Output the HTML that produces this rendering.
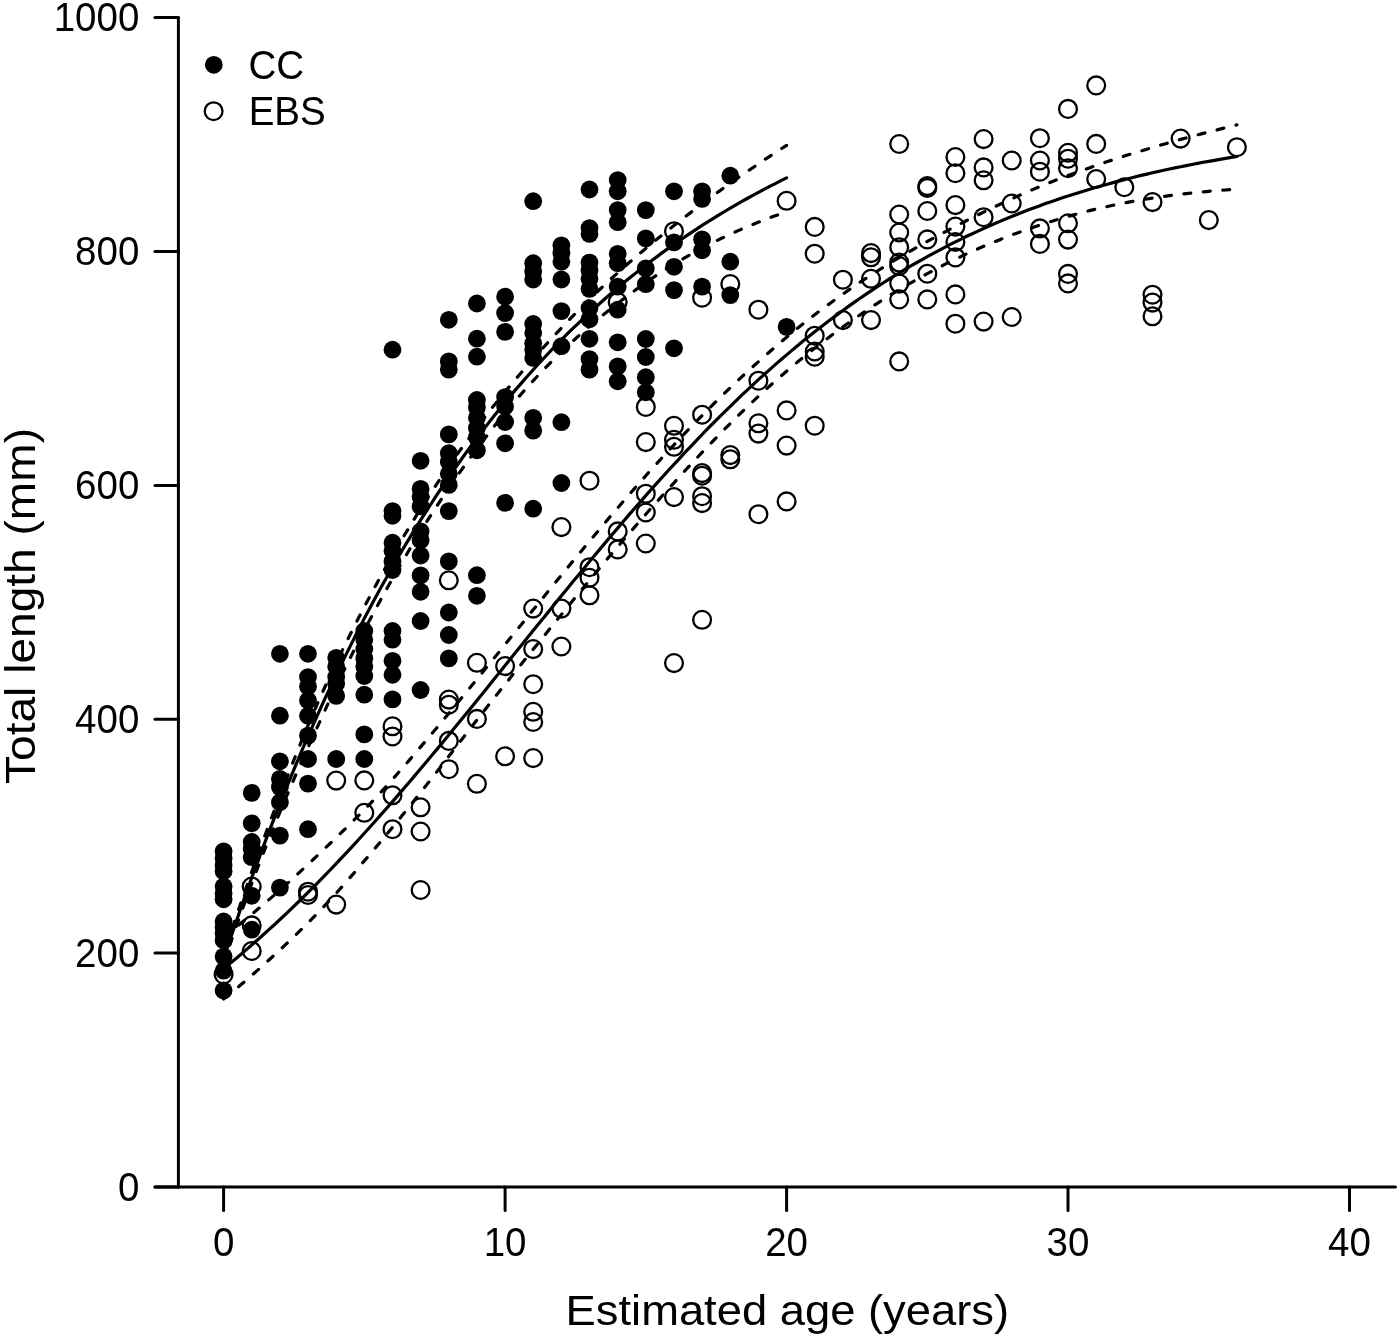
<!DOCTYPE html>
<html><head><meta charset="utf-8"><title>Growth curves</title>
<style>
html,body{margin:0;padding:0;background:#fff}
svg{display:block;will-change:transform}
text{font-family:"Liberation Sans",sans-serif;fill:#000}
.ax{stroke:#000;stroke-width:3;fill:none;stroke-linecap:round}
.s{stroke:#000;stroke-width:3.2;fill:none;stroke-linecap:round;stroke-linejoin:round}
.d{stroke:#000;stroke-width:3.2;fill:none;stroke-linecap:round;stroke-linejoin:round;stroke-dasharray:6.9 12.6}
.o circle{fill:none;stroke:#000;stroke-width:2.3}
.f circle{fill:#000}
.tk{font-size:40.4px}
.tt{font-size:43px}
</style></head>
<body>
<svg width="1400" height="1339" viewBox="0 0 1400 1339">
<rect width="1400" height="1339" fill="#fff"/>
<g class="ax">
<path d="M178.4 17.6V1187"/>
<path d="M155 1187H1395.5"/>
<path d="M155 1187.0H178.4"/>
<path d="M155 953.1H178.4"/>
<path d="M155 719.2H178.4"/>
<path d="M155 485.4H178.4"/>
<path d="M155 251.5H178.4"/>
<path d="M155 17.6H178.4"/>
<path d="M223.6 1187V1210.5"/>
<path d="M505.1 1187V1210.5"/>
<path d="M786.6 1187V1210.5"/>
<path d="M1068.0 1187V1210.5"/>
<path d="M1349.5 1187V1210.5"/>
</g>
<text class="tk" transform="translate(139.3 1200.6) scale(0.953 1)" text-anchor="end">0</text>
<text class="tk" transform="translate(139.3 966.7) scale(0.953 1)" text-anchor="end">200</text>
<text class="tk" transform="translate(139.3 732.8) scale(0.953 1)" text-anchor="end">400</text>
<text class="tk" transform="translate(139.3 499.0) scale(0.953 1)" text-anchor="end">600</text>
<text class="tk" transform="translate(139.3 265.1) scale(0.953 1)" text-anchor="end">800</text>
<text class="tk" transform="translate(139.3 31.2) scale(0.953 1)" text-anchor="end">1000</text>
<text class="tk" transform="translate(223.6 1255.8) scale(0.953 1)" text-anchor="middle">0</text>
<text class="tk" transform="translate(505.1 1255.8) scale(0.953 1)" text-anchor="middle">10</text>
<text class="tk" transform="translate(786.6 1255.8) scale(0.953 1)" text-anchor="middle">20</text>
<text class="tk" transform="translate(1068.0 1255.8) scale(0.953 1)" text-anchor="middle">30</text>
<text class="tk" transform="translate(1349.5 1255.8) scale(0.953 1)" text-anchor="middle">40</text>
<text class="tt" x="787.3" y="1325.4" text-anchor="middle" textLength="443.5" lengthAdjust="spacingAndGlyphs">Estimated age (years)</text>
<text class="tt" transform="translate(35.3 606) rotate(-90)" text-anchor="middle" textLength="356" lengthAdjust="spacingAndGlyphs">Total length (mm)</text>
<g class="o">
<circle cx="223.6" cy="974.5" r="8.9"/>
<circle cx="251.7" cy="886.5" r="8.9"/>
<circle cx="251.7" cy="925.4" r="8.9"/>
<circle cx="251.7" cy="951.0" r="8.9"/>
<circle cx="308.0" cy="891.7" r="8.9"/>
<circle cx="308.0" cy="895.0" r="8.9"/>
<circle cx="336.2" cy="780.6" r="8.9"/>
<circle cx="336.2" cy="904.6" r="8.9"/>
<circle cx="364.3" cy="780.4" r="8.9"/>
<circle cx="364.3" cy="812.8" r="8.9"/>
<circle cx="392.5" cy="726.3" r="8.9"/>
<circle cx="392.5" cy="736.5" r="8.9"/>
<circle cx="392.5" cy="795.3" r="8.9"/>
<circle cx="392.5" cy="829.2" r="8.9"/>
<circle cx="420.6" cy="807.3" r="8.9"/>
<circle cx="420.6" cy="831.5" r="8.9"/>
<circle cx="420.6" cy="890.0" r="8.9"/>
<circle cx="448.8" cy="580.3" r="8.9"/>
<circle cx="448.8" cy="699.6" r="8.9"/>
<circle cx="448.8" cy="704.7" r="8.9"/>
<circle cx="448.8" cy="740.9" r="8.9"/>
<circle cx="448.8" cy="769.2" r="8.9"/>
<circle cx="476.9" cy="662.8" r="8.9"/>
<circle cx="476.9" cy="718.9" r="8.9"/>
<circle cx="476.9" cy="783.8" r="8.9"/>
<circle cx="505.1" cy="666.1" r="8.9"/>
<circle cx="505.1" cy="756.3" r="8.9"/>
<circle cx="533.2" cy="608.6" r="8.9"/>
<circle cx="533.2" cy="649.1" r="8.9"/>
<circle cx="533.2" cy="684.2" r="8.9"/>
<circle cx="533.2" cy="711.8" r="8.9"/>
<circle cx="533.2" cy="722.0" r="8.9"/>
<circle cx="533.2" cy="758.1" r="8.9"/>
<circle cx="561.4" cy="527.1" r="8.9"/>
<circle cx="561.4" cy="608.6" r="8.9"/>
<circle cx="561.4" cy="646.5" r="8.9"/>
<circle cx="589.5" cy="480.7" r="8.9"/>
<circle cx="589.5" cy="567.2" r="8.9"/>
<circle cx="589.5" cy="577.7" r="8.9"/>
<circle cx="589.5" cy="595.3" r="8.9"/>
<circle cx="617.7" cy="302.0" r="8.9"/>
<circle cx="617.7" cy="531.4" r="8.9"/>
<circle cx="617.7" cy="549.4" r="8.9"/>
<circle cx="645.8" cy="406.9" r="8.9"/>
<circle cx="645.8" cy="442.1" r="8.9"/>
<circle cx="645.8" cy="493.7" r="8.9"/>
<circle cx="645.8" cy="512.5" r="8.9"/>
<circle cx="645.8" cy="543.5" r="8.9"/>
<circle cx="674.0" cy="231.2" r="8.9"/>
<circle cx="674.0" cy="425.8" r="8.9"/>
<circle cx="674.0" cy="439.8" r="8.9"/>
<circle cx="674.0" cy="446.8" r="8.9"/>
<circle cx="674.0" cy="497.1" r="8.9"/>
<circle cx="674.0" cy="663.1" r="8.9"/>
<circle cx="702.1" cy="297.7" r="8.9"/>
<circle cx="702.1" cy="414.7" r="8.9"/>
<circle cx="702.1" cy="473.1" r="8.9"/>
<circle cx="702.1" cy="475.7" r="8.9"/>
<circle cx="702.1" cy="496.2" r="8.9"/>
<circle cx="702.1" cy="503.1" r="8.9"/>
<circle cx="702.1" cy="619.8" r="8.9"/>
<circle cx="730.3" cy="284.0" r="8.9"/>
<circle cx="730.3" cy="455.1" r="8.9"/>
<circle cx="730.3" cy="459.3" r="8.9"/>
<circle cx="758.4" cy="309.7" r="8.9"/>
<circle cx="758.4" cy="380.7" r="8.9"/>
<circle cx="758.4" cy="423.3" r="8.9"/>
<circle cx="758.4" cy="433.6" r="8.9"/>
<circle cx="758.4" cy="514.2" r="8.9"/>
<circle cx="786.6" cy="200.8" r="8.9"/>
<circle cx="786.6" cy="410.4" r="8.9"/>
<circle cx="786.6" cy="445.6" r="8.9"/>
<circle cx="786.6" cy="501.4" r="8.9"/>
<circle cx="814.7" cy="226.9" r="8.9"/>
<circle cx="814.7" cy="253.7" r="8.9"/>
<circle cx="814.7" cy="335.7" r="8.9"/>
<circle cx="814.7" cy="351.5" r="8.9"/>
<circle cx="814.7" cy="356.7" r="8.9"/>
<circle cx="814.7" cy="425.7" r="8.9"/>
<circle cx="842.9" cy="279.7" r="8.9"/>
<circle cx="842.9" cy="320.1" r="8.9"/>
<circle cx="871.0" cy="253.1" r="8.9"/>
<circle cx="871.0" cy="257.3" r="8.9"/>
<circle cx="871.0" cy="278.8" r="8.9"/>
<circle cx="871.0" cy="320.1" r="8.9"/>
<circle cx="899.2" cy="144.0" r="8.9"/>
<circle cx="899.2" cy="214.5" r="8.9"/>
<circle cx="899.2" cy="232.5" r="8.9"/>
<circle cx="899.2" cy="247.2" r="8.9"/>
<circle cx="899.2" cy="262.6" r="8.9"/>
<circle cx="899.2" cy="266.0" r="8.9"/>
<circle cx="899.2" cy="283.6" r="8.9"/>
<circle cx="899.2" cy="299.4" r="8.9"/>
<circle cx="899.2" cy="361.4" r="8.9"/>
<circle cx="927.3" cy="186.1" r="8.9"/>
<circle cx="927.3" cy="187.9" r="8.9"/>
<circle cx="927.3" cy="211.0" r="8.9"/>
<circle cx="927.3" cy="239.4" r="8.9"/>
<circle cx="927.3" cy="273.7" r="8.9"/>
<circle cx="927.3" cy="299.4" r="8.9"/>
<circle cx="955.4" cy="157.0" r="8.9"/>
<circle cx="955.4" cy="173.2" r="8.9"/>
<circle cx="955.4" cy="205.1" r="8.9"/>
<circle cx="955.4" cy="226.6" r="8.9"/>
<circle cx="955.4" cy="242.0" r="8.9"/>
<circle cx="955.4" cy="257.4" r="8.9"/>
<circle cx="955.4" cy="294.4" r="8.9"/>
<circle cx="955.4" cy="323.7" r="8.9"/>
<circle cx="983.6" cy="139.1" r="8.9"/>
<circle cx="983.6" cy="167.4" r="8.9"/>
<circle cx="983.6" cy="180.3" r="8.9"/>
<circle cx="983.6" cy="217.2" r="8.9"/>
<circle cx="983.6" cy="321.6" r="8.9"/>
<circle cx="1011.7" cy="160.5" r="8.9"/>
<circle cx="1011.7" cy="203.5" r="8.9"/>
<circle cx="1011.7" cy="317.0" r="8.9"/>
<circle cx="1039.9" cy="138.2" r="8.9"/>
<circle cx="1039.9" cy="160.5" r="8.9"/>
<circle cx="1039.9" cy="171.7" r="8.9"/>
<circle cx="1039.9" cy="228.4" r="8.9"/>
<circle cx="1039.9" cy="243.9" r="8.9"/>
<circle cx="1068.0" cy="108.9" r="8.9"/>
<circle cx="1068.0" cy="152.8" r="8.9"/>
<circle cx="1068.0" cy="158.7" r="8.9"/>
<circle cx="1068.0" cy="168.2" r="8.9"/>
<circle cx="1068.0" cy="223.3" r="8.9"/>
<circle cx="1068.0" cy="239.6" r="8.9"/>
<circle cx="1068.0" cy="273.9" r="8.9"/>
<circle cx="1068.0" cy="283.4" r="8.9"/>
<circle cx="1096.2" cy="85.4" r="8.9"/>
<circle cx="1096.2" cy="143.9" r="8.9"/>
<circle cx="1096.2" cy="179.0" r="8.9"/>
<circle cx="1124.3" cy="187.2" r="8.9"/>
<circle cx="1152.5" cy="202.1" r="8.9"/>
<circle cx="1152.5" cy="294.7" r="8.9"/>
<circle cx="1152.5" cy="302.6" r="8.9"/>
<circle cx="1152.5" cy="316.3" r="8.9"/>
<circle cx="1180.6" cy="138.6" r="8.9"/>
<circle cx="1208.8" cy="220.1" r="8.9"/>
<circle cx="1236.9" cy="147.2" r="8.9"/>
<circle cx="213.6" cy="111.2" r="8.9"/>
</g>
<g class="f">
<circle cx="223.6" cy="851.4" r="8.9"/>
<circle cx="223.6" cy="858.4" r="8.9"/>
<circle cx="223.6" cy="865.4" r="8.9"/>
<circle cx="223.6" cy="871.3" r="8.9"/>
<circle cx="223.6" cy="886.5" r="8.9"/>
<circle cx="223.6" cy="893.5" r="8.9"/>
<circle cx="223.6" cy="899.3" r="8.9"/>
<circle cx="223.6" cy="921.5" r="8.9"/>
<circle cx="223.6" cy="927.4" r="8.9"/>
<circle cx="223.6" cy="933.2" r="8.9"/>
<circle cx="223.6" cy="940.3" r="8.9"/>
<circle cx="223.6" cy="956.6" r="8.9"/>
<circle cx="223.6" cy="970.7" r="8.9"/>
<circle cx="223.6" cy="990.5" r="8.9"/>
<circle cx="251.7" cy="792.9" r="8.9"/>
<circle cx="251.7" cy="823.3" r="8.9"/>
<circle cx="251.7" cy="842.0" r="8.9"/>
<circle cx="251.7" cy="849.0" r="8.9"/>
<circle cx="251.7" cy="857.2" r="8.9"/>
<circle cx="251.7" cy="895.8" r="8.9"/>
<circle cx="251.7" cy="929.7" r="8.9"/>
<circle cx="279.9" cy="653.8" r="8.9"/>
<circle cx="279.9" cy="715.7" r="8.9"/>
<circle cx="279.9" cy="761.3" r="8.9"/>
<circle cx="279.9" cy="778.9" r="8.9"/>
<circle cx="279.9" cy="787.1" r="8.9"/>
<circle cx="279.9" cy="802.3" r="8.9"/>
<circle cx="279.9" cy="835.6" r="8.9"/>
<circle cx="279.9" cy="887.6" r="8.9"/>
<circle cx="308.0" cy="653.8" r="8.9"/>
<circle cx="308.0" cy="677.1" r="8.9"/>
<circle cx="308.0" cy="686.5" r="8.9"/>
<circle cx="308.0" cy="700.5" r="8.9"/>
<circle cx="308.0" cy="715.7" r="8.9"/>
<circle cx="308.0" cy="735.6" r="8.9"/>
<circle cx="308.0" cy="759.0" r="8.9"/>
<circle cx="308.0" cy="783.6" r="8.9"/>
<circle cx="308.0" cy="829.2" r="8.9"/>
<circle cx="336.2" cy="657.8" r="8.9"/>
<circle cx="336.2" cy="666.6" r="8.9"/>
<circle cx="336.2" cy="677.1" r="8.9"/>
<circle cx="336.2" cy="683.6" r="8.9"/>
<circle cx="336.2" cy="695.9" r="8.9"/>
<circle cx="336.2" cy="759.0" r="8.9"/>
<circle cx="364.3" cy="631.0" r="8.9"/>
<circle cx="364.3" cy="639.7" r="8.9"/>
<circle cx="364.3" cy="649.1" r="8.9"/>
<circle cx="364.3" cy="658.4" r="8.9"/>
<circle cx="364.3" cy="666.6" r="8.9"/>
<circle cx="364.3" cy="676.0" r="8.9"/>
<circle cx="364.3" cy="694.7" r="8.9"/>
<circle cx="364.3" cy="734.4" r="8.9"/>
<circle cx="364.3" cy="759.0" r="8.9"/>
<circle cx="392.5" cy="349.7" r="8.9"/>
<circle cx="392.5" cy="511.1" r="8.9"/>
<circle cx="392.5" cy="515.8" r="8.9"/>
<circle cx="392.5" cy="542.7" r="8.9"/>
<circle cx="392.5" cy="550.8" r="8.9"/>
<circle cx="392.5" cy="561.4" r="8.9"/>
<circle cx="392.5" cy="570.0" r="8.9"/>
<circle cx="392.5" cy="631.0" r="8.9"/>
<circle cx="392.5" cy="639.7" r="8.9"/>
<circle cx="392.5" cy="660.8" r="8.9"/>
<circle cx="392.5" cy="674.8" r="8.9"/>
<circle cx="392.5" cy="699.4" r="8.9"/>
<circle cx="420.6" cy="460.8" r="8.9"/>
<circle cx="420.6" cy="488.9" r="8.9"/>
<circle cx="420.6" cy="497.1" r="8.9"/>
<circle cx="420.6" cy="506.4" r="8.9"/>
<circle cx="420.6" cy="531.4" r="8.9"/>
<circle cx="420.6" cy="540.3" r="8.9"/>
<circle cx="420.6" cy="555.5" r="8.9"/>
<circle cx="420.6" cy="575.4" r="8.9"/>
<circle cx="420.6" cy="591.8" r="8.9"/>
<circle cx="420.6" cy="621.0" r="8.9"/>
<circle cx="420.6" cy="690.0" r="8.9"/>
<circle cx="448.8" cy="319.8" r="8.9"/>
<circle cx="448.8" cy="361.4" r="8.9"/>
<circle cx="448.8" cy="369.6" r="8.9"/>
<circle cx="448.8" cy="434.4" r="8.9"/>
<circle cx="448.8" cy="453.2" r="8.9"/>
<circle cx="448.8" cy="462.0" r="8.9"/>
<circle cx="448.8" cy="473.7" r="8.9"/>
<circle cx="448.8" cy="484.9" r="8.9"/>
<circle cx="448.8" cy="511.1" r="8.9"/>
<circle cx="448.8" cy="561.4" r="8.9"/>
<circle cx="448.8" cy="612.5" r="8.9"/>
<circle cx="448.8" cy="635.0" r="8.9"/>
<circle cx="448.8" cy="658.4" r="8.9"/>
<circle cx="476.9" cy="303.5" r="8.9"/>
<circle cx="476.9" cy="338.7" r="8.9"/>
<circle cx="476.9" cy="356.7" r="8.9"/>
<circle cx="476.9" cy="400.0" r="8.9"/>
<circle cx="476.9" cy="407.4" r="8.9"/>
<circle cx="476.9" cy="417.8" r="8.9"/>
<circle cx="476.9" cy="428.1" r="8.9"/>
<circle cx="476.9" cy="437.4" r="8.9"/>
<circle cx="476.9" cy="450.3" r="8.9"/>
<circle cx="476.9" cy="575.2" r="8.9"/>
<circle cx="476.9" cy="595.8" r="8.9"/>
<circle cx="505.1" cy="296.7" r="8.9"/>
<circle cx="505.1" cy="313.1" r="8.9"/>
<circle cx="505.1" cy="331.9" r="8.9"/>
<circle cx="505.1" cy="397.1" r="8.9"/>
<circle cx="505.1" cy="406.5" r="8.9"/>
<circle cx="505.1" cy="422.0" r="8.9"/>
<circle cx="505.1" cy="443.3" r="8.9"/>
<circle cx="505.1" cy="502.9" r="8.9"/>
<circle cx="533.2" cy="201.2" r="8.9"/>
<circle cx="533.2" cy="263.2" r="8.9"/>
<circle cx="533.2" cy="271.4" r="8.9"/>
<circle cx="533.2" cy="279.5" r="8.9"/>
<circle cx="533.2" cy="324.0" r="8.9"/>
<circle cx="533.2" cy="332.9" r="8.9"/>
<circle cx="533.2" cy="343.3" r="8.9"/>
<circle cx="533.2" cy="349.7" r="8.9"/>
<circle cx="533.2" cy="357.9" r="8.9"/>
<circle cx="533.2" cy="417.8" r="8.9"/>
<circle cx="533.2" cy="430.6" r="8.9"/>
<circle cx="533.2" cy="508.7" r="8.9"/>
<circle cx="561.4" cy="245.3" r="8.9"/>
<circle cx="561.4" cy="253.1" r="8.9"/>
<circle cx="561.4" cy="261.7" r="8.9"/>
<circle cx="561.4" cy="279.5" r="8.9"/>
<circle cx="561.4" cy="311.1" r="8.9"/>
<circle cx="561.4" cy="346.2" r="8.9"/>
<circle cx="561.4" cy="422.2" r="8.9"/>
<circle cx="561.4" cy="483.0" r="8.9"/>
<circle cx="589.5" cy="189.5" r="8.9"/>
<circle cx="589.5" cy="228.1" r="8.9"/>
<circle cx="589.5" cy="233.9" r="8.9"/>
<circle cx="589.5" cy="262.6" r="8.9"/>
<circle cx="589.5" cy="270.2" r="8.9"/>
<circle cx="589.5" cy="278.8" r="8.9"/>
<circle cx="589.5" cy="288.9" r="8.9"/>
<circle cx="589.5" cy="308.1" r="8.9"/>
<circle cx="589.5" cy="319.3" r="8.9"/>
<circle cx="589.5" cy="338.8" r="8.9"/>
<circle cx="589.5" cy="359.1" r="8.9"/>
<circle cx="589.5" cy="369.6" r="8.9"/>
<circle cx="617.7" cy="180.1" r="8.9"/>
<circle cx="617.7" cy="191.3" r="8.9"/>
<circle cx="617.7" cy="210.1" r="8.9"/>
<circle cx="617.7" cy="222.2" r="8.9"/>
<circle cx="617.7" cy="253.8" r="8.9"/>
<circle cx="617.7" cy="263.2" r="8.9"/>
<circle cx="617.7" cy="286.6" r="8.9"/>
<circle cx="617.7" cy="309.7" r="8.9"/>
<circle cx="617.7" cy="342.3" r="8.9"/>
<circle cx="617.7" cy="366.4" r="8.9"/>
<circle cx="617.7" cy="381.3" r="8.9"/>
<circle cx="645.8" cy="210.1" r="8.9"/>
<circle cx="645.8" cy="238.4" r="8.9"/>
<circle cx="645.8" cy="268.4" r="8.9"/>
<circle cx="645.8" cy="284.2" r="8.9"/>
<circle cx="645.8" cy="339.0" r="8.9"/>
<circle cx="645.8" cy="357.0" r="8.9"/>
<circle cx="645.8" cy="377.2" r="8.9"/>
<circle cx="645.8" cy="392.3" r="8.9"/>
<circle cx="674.0" cy="191.3" r="8.9"/>
<circle cx="674.0" cy="242.4" r="8.9"/>
<circle cx="674.0" cy="266.8" r="8.9"/>
<circle cx="674.0" cy="290.1" r="8.9"/>
<circle cx="674.0" cy="348.3" r="8.9"/>
<circle cx="702.1" cy="191.3" r="8.9"/>
<circle cx="702.1" cy="198.9" r="8.9"/>
<circle cx="702.1" cy="239.3" r="8.9"/>
<circle cx="702.1" cy="250.3" r="8.9"/>
<circle cx="702.1" cy="286.6" r="8.9"/>
<circle cx="730.3" cy="175.7" r="8.9"/>
<circle cx="730.3" cy="261.7" r="8.9"/>
<circle cx="730.3" cy="295.1" r="8.9"/>
<circle cx="786.6" cy="326.9" r="8.9"/>
<circle cx="213.8" cy="64.8" r="8.9"/>
</g>
<polyline class="s" points="223.6,968.7 229.2,964.1 234.9,959.4 240.5,954.7 246.1,949.9 251.7,945.0 257.4,940.0 263.0,935.0 268.6,929.9 274.3,924.8 279.9,919.5 285.5,914.3 291.2,908.9 296.8,903.5 302.4,898.0 308.0,892.4 313.7,886.8 319.3,881.1 324.9,875.3 330.6,869.5 336.2,863.6 341.8,857.7 347.5,851.6 353.1,845.6 358.7,839.5 364.3,833.3 370.0,827.0 375.6,820.8 381.2,814.4 386.9,808.0 392.5,801.6 398.1,795.1 403.7,788.6 409.4,782.0 415.0,775.4 420.6,768.7 426.3,762.0 431.9,755.3 437.5,748.6 443.2,741.8 448.8,734.9 454.4,728.1 460.0,721.2 465.7,714.3 471.3,707.4 476.9,700.5 482.6,693.5 488.2,686.5 493.8,679.6 499.5,672.6 505.1,665.6 510.7,658.6 516.3,651.6 522.0,644.6 527.6,637.6 533.2,630.6 538.9,623.6 544.5,616.7 550.1,609.7 555.7,602.8 561.4,595.8 567.0,588.9 572.6,582.1 578.3,575.2 583.9,568.4 589.5,561.6 595.2,554.8 600.8,548.1 606.4,541.4 612.0,534.7 617.7,528.1 623.3,521.5 628.9,514.9 634.6,508.4 640.2,502.0 645.8,495.6 651.4,489.2 657.1,482.9 662.7,476.7 668.3,470.5 674.0,464.3 679.6,458.3 685.2,452.2 690.9,446.3 696.5,440.4 702.1,434.5 707.7,428.7 713.4,423.0 719.0,417.4 724.6,411.8 730.3,406.3 735.9,400.8 741.5,395.4 747.2,390.1 752.8,384.9 758.4,379.7 764.0,374.6 769.7,369.6 775.3,364.6 780.9,359.7 786.6,354.9 792.2,350.1 797.8,345.4 803.4,340.8 809.1,336.3 814.7,331.8 820.3,327.4 826.0,323.0 831.6,318.8 837.2,314.6 842.9,310.5 848.5,306.4 854.1,302.4 859.7,298.5 865.4,294.7 871.0,290.9 876.6,287.2 882.3,283.5 887.9,279.9 893.5,276.4 899.2,273.0 904.8,269.6 910.4,266.2 916.0,263.0 921.7,259.8 927.3,256.6 932.9,253.6 938.6,250.6 944.2,247.6 949.8,244.7 955.4,241.9 961.1,239.1 966.7,236.3 972.3,233.7 978.0,231.1 983.6,228.5 989.2,226.0 994.9,223.5 1000.5,221.1 1006.1,218.8 1011.7,216.5 1017.4,214.2 1023.0,212.0 1028.6,209.8 1034.3,207.7 1039.9,205.7 1045.5,203.6 1051.2,201.7 1056.8,199.7 1062.4,197.8 1068.0,196.0 1073.7,194.2 1079.3,192.4 1084.9,190.7 1090.6,189.0 1096.2,187.3 1101.8,185.7 1107.4,184.2 1113.1,182.6 1118.7,181.1 1124.3,179.6 1130.0,178.2 1135.6,176.8 1141.2,175.4 1146.9,174.1 1152.5,172.8 1158.1,171.5 1163.7,170.3 1169.4,169.0 1175.0,167.9 1180.6,166.7 1186.3,165.6 1191.9,164.5 1197.5,163.4 1203.2,162.3 1208.8,161.3 1214.4,160.3 1220.0,159.3 1225.7,158.4 1231.3,157.4 1236.9,156.5"/>
<polyline class="d" points="223.6,937.1 229.2,932.7 234.9,928.2 240.5,923.6 246.1,919.0 251.7,914.3 257.4,909.6 263.0,904.8 268.6,900.0 274.3,895.1 279.9,890.1 285.5,885.1 291.2,880.0 296.8,874.8 302.4,869.6 308.0,864.3 313.7,859.0 319.3,853.7 324.9,848.4 330.6,843.0 336.2,837.6 341.8,832.1 347.5,826.6 353.1,821.0 358.7,815.4 364.3,809.6 370.0,803.8 375.6,797.9 381.2,791.8 386.9,785.7 392.5,779.4 398.1,773.0 403.7,766.6 409.4,760.1 415.0,753.5 420.6,746.9 426.3,740.3 431.9,733.7 437.5,727.0 443.2,720.2 448.8,713.4 454.4,706.6 460.0,699.8 465.7,693.0 471.3,686.1 476.9,679.2 482.6,672.3 488.2,665.4 493.8,658.4 499.5,651.5 505.1,644.5 510.7,637.6 516.3,630.6 522.0,623.7 527.6,616.8 533.2,609.8 538.9,602.9 544.5,595.9 550.1,589.0 555.7,582.1 561.4,575.2 567.0,568.4 572.6,561.5 578.3,554.7 583.9,547.9 589.5,541.2 595.2,534.5 600.8,527.8 606.4,521.1 612.0,514.5 617.7,507.9 623.3,501.4 628.9,494.9 634.6,488.4 640.2,482.0 645.8,475.7 651.4,469.4 657.1,463.2 662.7,457.0 668.3,450.9 674.0,444.8 679.6,438.8 685.2,432.9 690.9,427.0 696.5,421.2 702.1,415.5 707.7,409.8 713.4,404.2 719.0,398.6 724.6,393.1 730.3,387.7 735.9,382.4 741.5,377.1 747.2,371.9 752.8,366.7 758.4,361.7 764.0,356.7 769.7,351.7 775.3,346.9 780.9,342.1 786.6,337.3 792.2,332.7 797.8,328.1 803.4,323.6 809.1,319.1 814.7,314.8 820.3,310.5 826.0,306.3 831.6,302.2 837.2,298.1 842.9,294.1 848.5,290.1 854.1,286.3 859.7,282.5 865.4,278.7 871.0,275.1 876.6,271.5 882.3,267.9 887.9,264.4 893.5,261.0 899.2,257.6 904.8,254.3 910.4,251.0 916.0,247.8 921.7,244.6 927.3,241.4 932.9,238.4 938.6,235.3 944.2,232.3 949.8,229.3 955.4,226.3 961.1,223.4 966.7,220.5 972.3,217.7 978.0,214.9 983.6,212.1 989.2,209.3 994.9,206.7 1000.5,204.0 1006.1,201.4 1011.7,198.8 1017.4,196.3 1023.0,193.8 1028.6,191.3 1034.3,188.9 1039.9,186.6 1045.5,184.3 1051.2,182.0 1056.8,179.8 1062.4,177.6 1068.0,175.5 1073.7,173.4 1079.3,171.4 1084.9,169.4 1090.6,167.4 1096.2,165.4 1101.8,163.5 1107.4,161.6 1113.1,159.8 1118.7,157.9 1124.3,156.1 1130.0,154.3 1135.6,152.6 1141.2,150.9 1146.9,149.2 1152.5,147.5 1158.1,145.8 1163.7,144.2 1169.4,142.6 1175.0,141.0 1180.6,139.4 1186.3,137.9 1191.9,136.4 1197.5,134.9 1203.2,133.4 1208.8,131.9 1214.4,130.5 1220.0,129.1 1225.7,127.7 1231.3,126.3 1236.9,124.9"/>
<polyline class="d" points="223.6,999.1 229.2,994.5 234.9,989.8 240.5,985.1 246.1,980.3 251.7,975.4 257.4,970.4 263.0,965.4 268.6,960.3 274.3,955.2 279.9,950.0 285.5,944.7 291.2,939.3 296.8,933.9 302.4,928.4 308.0,922.8 313.7,917.1 319.3,911.3 324.9,905.4 330.6,899.3 336.2,893.2 341.8,886.9 347.5,880.5 353.1,874.1 358.7,867.5 364.3,860.9 370.0,854.3 375.6,847.6 381.2,840.9 386.9,834.1 392.5,827.3 398.1,820.5 403.7,813.6 409.4,806.6 415.0,799.5 420.6,792.4 426.3,785.3 431.9,778.1 437.5,770.9 443.2,763.6 448.8,756.3 454.4,749.1 460.0,741.8 465.7,734.5 471.3,727.2 476.9,720.0 482.6,712.7 488.2,705.6 493.8,698.4 499.5,691.3 505.1,684.3 510.7,677.3 516.3,670.3 522.0,663.3 527.6,656.3 533.2,649.3 538.9,642.3 544.5,635.4 550.1,628.4 555.7,621.5 561.4,614.6 567.0,607.7 572.6,600.8 578.3,593.9 583.9,587.1 589.5,580.3 595.2,573.5 600.8,566.8 606.4,560.1 612.0,553.4 617.7,546.8 623.3,540.2 628.9,533.6 634.6,527.1 640.2,520.7 645.8,514.3 651.4,507.9 657.1,501.6 662.7,495.3 668.3,489.0 674.0,482.8 679.6,476.6 685.2,470.5 690.9,464.4 696.5,458.4 702.1,452.4 707.7,446.5 713.4,440.6 719.0,434.9 724.6,429.1 730.3,423.5 735.9,417.9 741.5,412.4 747.2,406.9 752.8,401.6 758.4,396.3 764.0,391.1 769.7,386.0 775.3,381.0 780.9,376.1 786.6,371.2 792.2,366.5 797.8,361.8 803.4,357.2 809.1,352.6 814.7,348.2 820.3,343.8 826.0,339.5 831.6,335.2 837.2,331.0 842.9,326.9 848.5,322.9 854.1,318.9 859.7,315.1 865.4,311.2 871.0,307.5 876.6,303.8 882.3,300.2 887.9,296.6 893.5,293.1 899.2,289.7 904.8,286.4 910.4,283.1 916.0,279.9 921.7,276.7 927.3,273.6 932.9,270.6 938.6,267.6 944.2,264.7 949.8,261.9 955.4,259.1 961.1,256.5 966.7,253.8 972.3,251.3 978.0,248.8 983.6,246.3 989.2,244.0 994.9,241.6 1000.5,239.4 1006.1,237.2 1011.7,235.0 1017.4,233.0 1023.0,230.9 1028.6,228.9 1034.3,227.0 1039.9,225.1 1045.5,223.3 1051.2,221.5 1056.8,219.8 1062.4,218.1 1068.0,216.4 1073.7,214.9 1079.3,213.3 1084.9,211.8 1090.6,210.4 1096.2,209.0 1101.8,207.7 1107.4,206.5 1113.1,205.2 1118.7,204.1 1124.3,203.0 1130.0,201.9 1135.6,200.9 1141.2,199.9 1146.9,199.0 1152.5,198.1 1158.1,197.2 1163.7,196.4 1169.4,195.7 1175.0,194.9 1180.6,194.2 1186.3,193.6 1191.9,193.0 1197.5,192.4 1203.2,191.9 1208.8,191.3 1214.4,190.9 1220.0,190.4 1225.7,190.0 1231.3,189.6 1236.9,189.3"/>
<polyline class="s" points="223.6,958.7 229.2,942.0 234.9,925.5 240.5,909.3 246.1,893.4 251.7,877.8 257.4,862.5 263.0,847.4 268.6,832.6 274.3,818.1 279.9,803.9 285.5,789.9 291.2,776.1 296.8,762.6 302.4,749.4 308.0,736.4 313.7,723.6 319.3,711.1 324.9,698.7 330.6,686.6 336.2,674.7 341.8,663.1 347.5,651.6 353.1,640.4 358.7,629.3 364.3,618.5 370.0,607.8 375.6,597.3 381.2,587.1 386.9,577.0 392.5,567.1 398.1,557.3 403.7,547.8 409.4,538.4 415.0,529.2 420.6,520.1 426.3,511.2 431.9,502.5 437.5,493.9 443.2,485.5 448.8,477.2 454.4,469.1 460.0,461.2 465.7,453.3 471.3,445.6 476.9,438.1 482.6,430.7 488.2,423.4 493.8,416.3 499.5,409.2 505.1,402.4 510.7,395.6 516.3,388.9 522.0,382.4 527.6,376.0 533.2,369.7 538.9,363.5 544.5,357.5 550.1,351.5 555.7,345.6 561.4,339.9 567.0,334.2 572.6,328.7 578.3,323.3 583.9,317.9 589.5,312.7 595.2,307.5 600.8,302.5 606.4,297.5 612.0,292.6 617.7,287.8 623.3,283.1 628.9,278.5 634.6,273.9 640.2,269.5 645.8,265.1 651.4,260.8 657.1,256.6 662.7,252.4 668.3,248.4 674.0,244.4 679.6,240.4 685.2,236.6 690.9,232.8 696.5,229.1 702.1,225.4 707.7,221.9 713.4,218.3 719.0,214.9 724.6,211.5 730.3,208.2 735.9,204.9 741.5,201.7 747.2,198.5 752.8,195.4 758.4,192.4 764.0,189.4 769.7,186.4 775.3,183.6 780.9,180.7 786.6,177.9"/>
<polyline class="d" stroke-dashoffset="11.4" points="223.6,954.1 229.2,937.1 234.9,920.4 240.5,904.0 246.1,887.9 251.7,871.9 257.4,856.3 263.0,840.8 268.6,825.5 274.3,810.4 279.9,795.7 285.5,781.2 291.2,766.8 296.8,752.7 302.4,738.9 308.0,725.3 313.7,712.2 319.3,699.4 324.9,687.0 330.6,674.9 336.2,663.0 341.8,651.4 347.5,639.9 353.1,628.7 358.7,617.6 364.3,606.8 370.0,596.1 375.6,585.7 381.2,575.4 386.9,565.3 392.5,555.5 398.1,545.8 403.7,536.3 409.4,527.0 415.0,517.8 420.6,508.8 426.3,500.0 431.9,491.4 437.5,482.9 443.2,474.5 448.8,466.3 454.4,458.3 460.0,450.4 465.7,442.6 471.3,435.0 476.9,427.5 482.6,420.1 488.2,412.8 493.8,405.7 499.5,398.7 505.1,391.8 510.7,385.0 516.3,378.4 522.0,371.8 527.6,365.2 533.2,358.8 538.9,352.5 544.5,346.2 550.1,340.1 555.7,334.0 561.4,328.0 567.0,322.1 572.6,316.3 578.3,310.6 583.9,305.0 589.5,299.4 595.2,293.9 600.8,288.5 606.4,283.2 612.0,278.0 617.7,272.9 623.3,267.8 628.9,262.8 634.6,257.9 640.2,253.1 645.8,248.4 651.4,243.7 657.1,239.1 662.7,234.5 668.3,230.0 674.0,225.5 679.6,221.1 685.2,216.7 690.9,212.4 696.5,208.1 702.1,203.9 707.7,199.7 713.4,195.5 719.0,191.4 724.6,187.3 730.3,183.3 735.9,179.3 741.5,175.4 747.2,171.5 752.8,167.7 758.4,163.8 764.0,160.1 769.7,156.4 775.3,152.7 780.9,149.0 786.6,145.4"/>
<polyline class="d" points="223.6,963.4 229.2,946.8 234.8,930.6 240.4,914.7 246.0,899.2 251.6,883.9 257.2,869.0 262.8,854.5 268.5,840.3 274.1,826.3 279.7,812.6 285.3,799.2 290.9,786.1 296.5,773.2 302.1,760.6 307.7,748.2 313.3,735.8 318.9,723.6 324.5,711.3 330.1,699.2 335.7,687.4 341.3,675.7 347.0,664.3 352.6,653.1 358.2,642.1 363.8,631.2 369.4,620.6 375.0,610.1 380.6,599.9 386.2,589.8 391.8,579.8 397.4,570.1 403.0,560.5 408.6,551.0 414.2,541.8 419.8,532.7 425.4,523.7 431.1,514.9 436.7,506.3 442.3,497.8 447.9,489.5 453.5,481.3 459.1,473.3 464.7,465.4 470.3,457.7 475.9,450.1 481.5,442.7 487.1,435.4 492.7,428.2 498.3,421.2 503.9,414.3 509.5,407.5 515.2,400.9 520.8,394.5 526.4,388.2 532.0,382.0 537.6,376.0 543.2,370.1 548.8,364.4 554.4,358.7 560.0,353.3 565.6,347.9 571.2,342.7 576.8,337.5 582.4,332.5 588.0,327.6 593.7,322.8 599.3,318.1 604.9,313.5 610.5,309.0 616.1,304.6 621.7,300.3 627.3,296.0 632.9,291.9 638.5,287.8 644.1,283.8 649.7,279.9 655.3,276.1 660.9,272.4 666.5,268.8 672.1,265.3 677.8,261.9 683.4,258.6 689.0,255.4 694.6,252.2 700.2,249.2 705.8,246.2 711.4,243.3 717.0,240.5 722.6,237.8 728.2,235.2 733.8,232.6 739.4,230.1 745.0,227.7 750.6,225.3 756.3,223.1 761.9,220.8 767.5,218.7 773.1,216.6 778.7,214.6"/>
<text class="tk" transform="translate(248.5 79) scale(0.953 1)">CC</text>
<text class="tk" transform="translate(248.7 125.2) scale(0.953 1)">EBS</text>
</svg>
</body></html>
